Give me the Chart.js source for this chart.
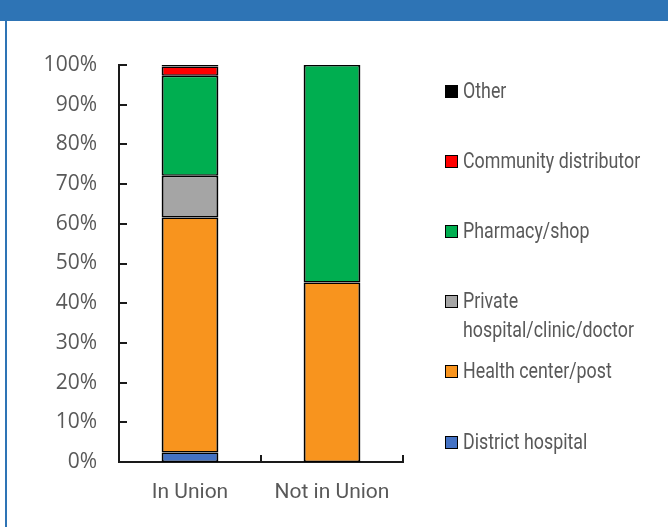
<!DOCTYPE html>
<html><head><meta charset="utf-8">
<script src="https://cdn.jsdelivr.net/npm/chart.js@4"></script>
<style>
html,body{margin:0;padding:0;background:#fff;}
body{width:668px;height:527px;position:relative;overflow:hidden;}
#hdr{position:absolute;left:0;top:0;width:668px;height:21px;background:#2E74B5;}
#lb{position:absolute;left:5px;top:21px;width:2px;height:506px;background:#2E74B5;}
#c{position:absolute;left:0;top:0;}
#legend{position:absolute;left:445px;top:0;width:223px;height:527px;font-family:Roboto,sans-serif;font-size:22px;color:#595959;}
.item{position:absolute;left:0;width:223px;height:70px;}
.sw{position:absolute;left:0;top:9px;width:11px;height:11px;border:1.5px solid #000;}
.tx{position:absolute;left:18px;top:0;line-height:29px;white-space:pre;transform:scaleX(0.81);transform-origin:0 0;}
</style>
</head><body>
<div id="hdr"></div>
<div id="lb"></div>
<canvas id="c" width="668" height="527"></canvas>
<div id="legend"></div>
<script>
const categories = ['In Union', 'Not in Union'];
const seriesLabels = ['District hospital', 'Health center/post', 'Private\nhospital/clinic/doctor', 'Pharmacy/shop', 'Community distributor', 'Other'];
const districtHospital = [2.4, 0];
const healthCenter = [59.2, 45.2];
const privateFacility = [10.5, 0];
const pharmacyShop = [25.2, 54.8];
const communityDistributor = [2.3, 0];
const otherSource = [0.4, 0];
const yTickValues = [0, 10, 20, 30, 40, 50, 60, 70, 80, 90, 100];

const seriesData = [districtHospital, healthCenter, privateFacility, pharmacyShop, communityDistributor, otherSource];
const seriesColors = ['#4472C4', '#F8941E', '#A5A5A5', '#00AE50', '#FF0000', '#000000'];

const innerTicks = {
  id: 'innerTicks',
  afterDraw(chart) {
    const {ctx, scales: {x, y}, chartArea: a} = chart;
    ctx.save();
    ctx.strokeStyle = '#1a1a1a';
    ctx.lineWidth = 2;
    yTickValues.forEach(v => {
      const py = Math.round(y.getPixelForValue(v));
      ctx.beginPath(); ctx.moveTo(a.left, py); ctx.lineTo(a.left + 8, py); ctx.stroke();
    });
    for (let i = 0; i <= categories.length; i++) {
      const px = Math.round(x.getPixelForValue(i - 0.5));
      ctx.beginPath(); ctx.moveTo(px, a.bottom); ctx.lineTo(px, a.bottom - 7); ctx.stroke();
    }
    ctx.restore();
  }
};

const chart = new Chart(document.getElementById('c'), {
  type: 'bar',
  data: {
    labels: categories,
    datasets: seriesData.map((d, i) => ({
      label: seriesLabels[i],
      data: d,
      backgroundColor: seriesColors[i],
      borderColor: '#000000',
      borderWidth: {top: 1.5, bottom: 1.5, left: 2, right: 2},
      borderSkipped: false,
      barPercentage: 0.4,
      categoryPercentage: 1.0
    }))
  },
  options: {
    responsive: false,
    animation: false,
    events: [],
    layout: {padding: {left: 0, right: 265, top: 65, bottom: 0}},
    plugins: {legend: {display: false}, tooltip: {enabled: false}},
    scales: {
      x: {
        stacked: true,
        grid: {display: false, drawTicks: false},
        border: {display: true, color: '#1a1a1a', width: 2},
        ticks: {color: '#595959', padding: 18, font: {family: 'Roboto, sans-serif', size: 21}},
        afterFit(s) { s.height = 65; }
      },
      y: {
        stacked: true,
        min: 0, max: 100,
        afterBuildTicks(s) { s.ticks = yTickValues.map(v => ({value: v})); },
        grid: {display: false, drawTicks: false},
        border: {display: true, color: '#1a1a1a', width: 2},
        ticks: {color: '#595959', padding: 22, font: {family: '"Open Sans", sans-serif', size: 21}, callback: v => v + '%'},
        afterFit(s) { s.width = 119; }
      }
    }
  },
  plugins: [innerTicks]
});

const legendEl = document.getElementById('legend');
const ds = chart.data.datasets.slice().reverse();
ds.forEach((d, i) => {
  const item = document.createElement('div');
  item.className = 'item';
  item.style.top = (75.6 + 70.2 * i) + 'px';
  const sw = document.createElement('div');
  sw.className = 'sw';
  sw.style.background = d.backgroundColor;
  const tx = document.createElement('div');
  tx.className = 'tx';
  tx.textContent = d.label;
  item.appendChild(sw); item.appendChild(tx);
  legendEl.appendChild(item);
});
</script>
</body></html>
